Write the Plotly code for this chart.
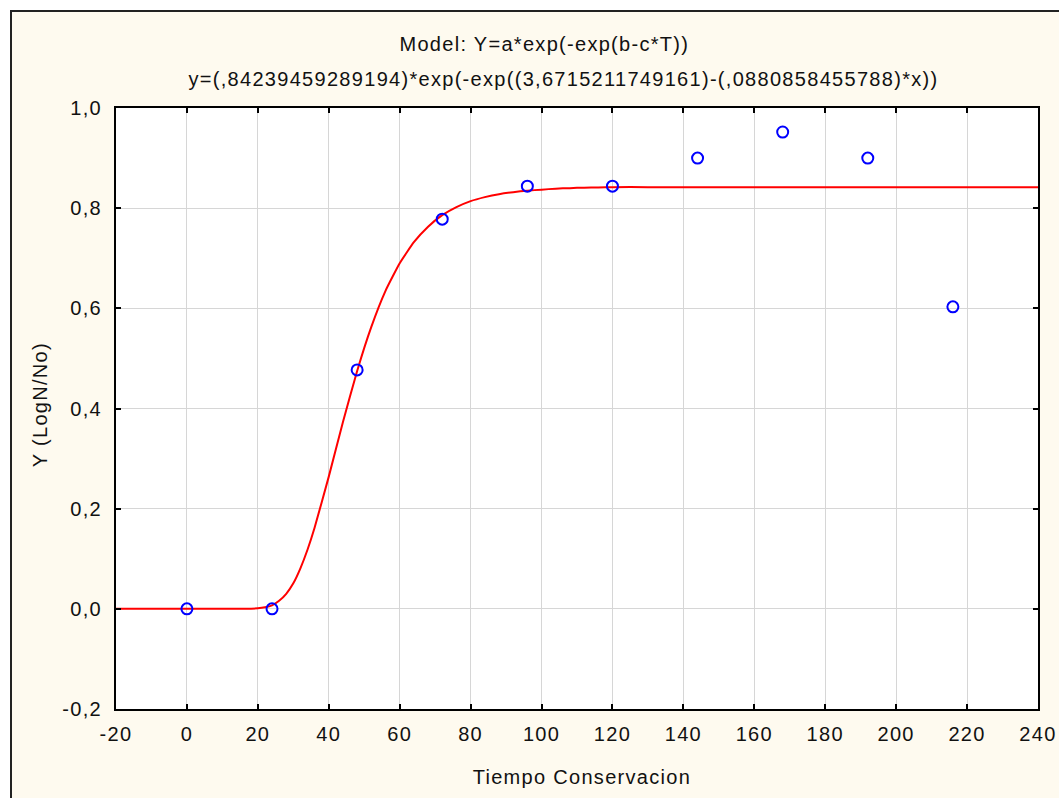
import plotly.graph_objects as go

# ---- data ----
obs_x = [0, 24, 48, 72, 96, 120, 144, 168, 192, 216]
obs_y = [0.0, 0.0, 0.477, 0.778, 0.844, 0.844, 0.900, 0.952, 0.900, 0.603]

fit_x = [-20, 0, 10, 16, 20, 22, 24, 26, 28, 30, 32, 34, 36, 40, 44, 48, 52, 56, 60, 64, 68, 72,
         76, 80, 84, 88, 92, 96, 100, 104, 108, 112, 116, 120, 130, 140, 160, 200, 240]
fit_y = [0.0, 0.0, 0.0, 0.0, 0.001, 0.003, 0.007, 0.016, 0.030, 0.051, 0.081, 0.118, 0.162,
         0.264, 0.373, 0.475, 0.563, 0.635, 0.690, 0.732, 0.763, 0.786, 0.802, 0.814, 0.822,
         0.828, 0.832, 0.835, 0.837, 0.839, 0.840, 0.841, 0.8415, 0.842, 0.842, 0.842, 0.842,
         0.842, 0.842]

x_ticks = [-20, 0, 20, 40, 60, 80, 100, 120, 140, 160, 180, 200, 220, 240]
x_ticktext = ["-20", "0", "20", "40", "60", "80", "100", "120", "140", "160", "180", "200", "220", "240"]
y_ticks = [-0.2, 0.0, 0.2, 0.4, 0.6, 0.8, 1.0]
y_ticktext = ["-0,2", "0,0", "0,2", "0,4", "0,6", "0,8", "1,0"]

title1 = "Model: Y=a*exp(-exp(b-c*T))"
title2 = "y=(,84239459289194)*exp(-exp((3,6715211749161)-(,0880858455788)*x))"
x_title = "Tiempo Conservacion"
y_title = "Y (LogN/No)"

# ---- layout geometry (pixels) ----
W, H = 1059, 798
L, R, T, B = 116, 1038, 108, 709
PW, PH = R - L, B - T


def px(p):
    return (p - L) / PW


def py(p):
    return (B - p) / PH


FONT = "Liberation Sans, Arial, sans-serif"
CREAM = "#FEFAEF"

fig = go.Figure()
fig.add_trace(go.Scatter(x=fit_x, y=fit_y, mode="lines",
                         line=dict(color="#FF0000", width=2, shape="spline", smoothing=0.4),
                         hoverinfo="skip", showlegend=False))
fig.add_trace(go.Scatter(x=obs_x, y=obs_y, mode="markers",
                         marker=dict(symbol="circle-open", size=11, color="#0000FF",
                                     line=dict(width=2, color="#0000FF")),
                         showlegend=False))

axis_common = dict(showline=True, linecolor="black", linewidth=2, mirror="ticks",
                   ticks="inside", ticklen=5, tickwidth=2, tickcolor="black",
                   showgrid=True, gridcolor="#D6D6D6", gridwidth=1, zeroline=False,
                   automargin=False,
                   tickfont=dict(family=FONT, size=20, color="#111111"))

fig.update_xaxes(range=[-20, 240], tickmode="array", tickvals=x_ticks, ticktext=x_ticktext,
                 ticklabelstandoff=6, **axis_common)
fig.update_yaxes(range=[-0.2, 1.0], tickmode="array", tickvals=y_ticks, ticktext=y_ticktext,
                 ticklabelstandoff=8, **axis_common)

annots = [
    dict(text=title1, x=px(544), y=py(44)),
    dict(text=title2, x=px(563), y=py(79)),
    dict(text=x_title, x=px(582), y=py(777)),
    dict(text=y_title, x=px(40), y=py(405), textangle=-90),
]
for a in annots:
    a.update(xref="paper", yref="paper", xanchor="center", yanchor="middle",
             showarrow=False, font=dict(family=FONT, size=20, color="#111111"))

shapes = [
    # white outside the frame
    dict(type="rect", xref="paper", yref="paper", x0=px(-10), x1=px(10), y0=py(820), y1=py(-10),
         fillcolor="white", line=dict(width=0), layer="below"),
    dict(type="rect", xref="paper", yref="paper", x0=px(-10), x1=px(1080), y0=py(10), y1=py(-10),
         fillcolor="white", line=dict(width=0), layer="below"),
    # frame lines
    dict(type="line", xref="paper", yref="paper", x0=px(11), x1=px(11), y0=py(11), y1=py(820),
         line=dict(color="#222222", width=2)),
    dict(type="line", xref="paper", yref="paper", x0=px(10), x1=px(1080), y0=py(11), y1=py(11),
         line=dict(color="#222222", width=2)),
]

fig.update_layout(width=W, height=H, autosize=False,
                  margin=dict(l=L, r=W - R, t=T, b=H - B, pad=0, autoexpand=False),
                  paper_bgcolor=CREAM, plot_bgcolor="white",
                  annotations=annots, shapes=shapes,
                  font=dict(family=FONT, size=20, color="#111111"))

post = ("var s=document.createElement('style');"
        "s.innerHTML='.main-svg text{letter-spacing:1.3px;}';"
        "document.head.appendChild(s);")
fig.write_html("out.html", post_script=post)
